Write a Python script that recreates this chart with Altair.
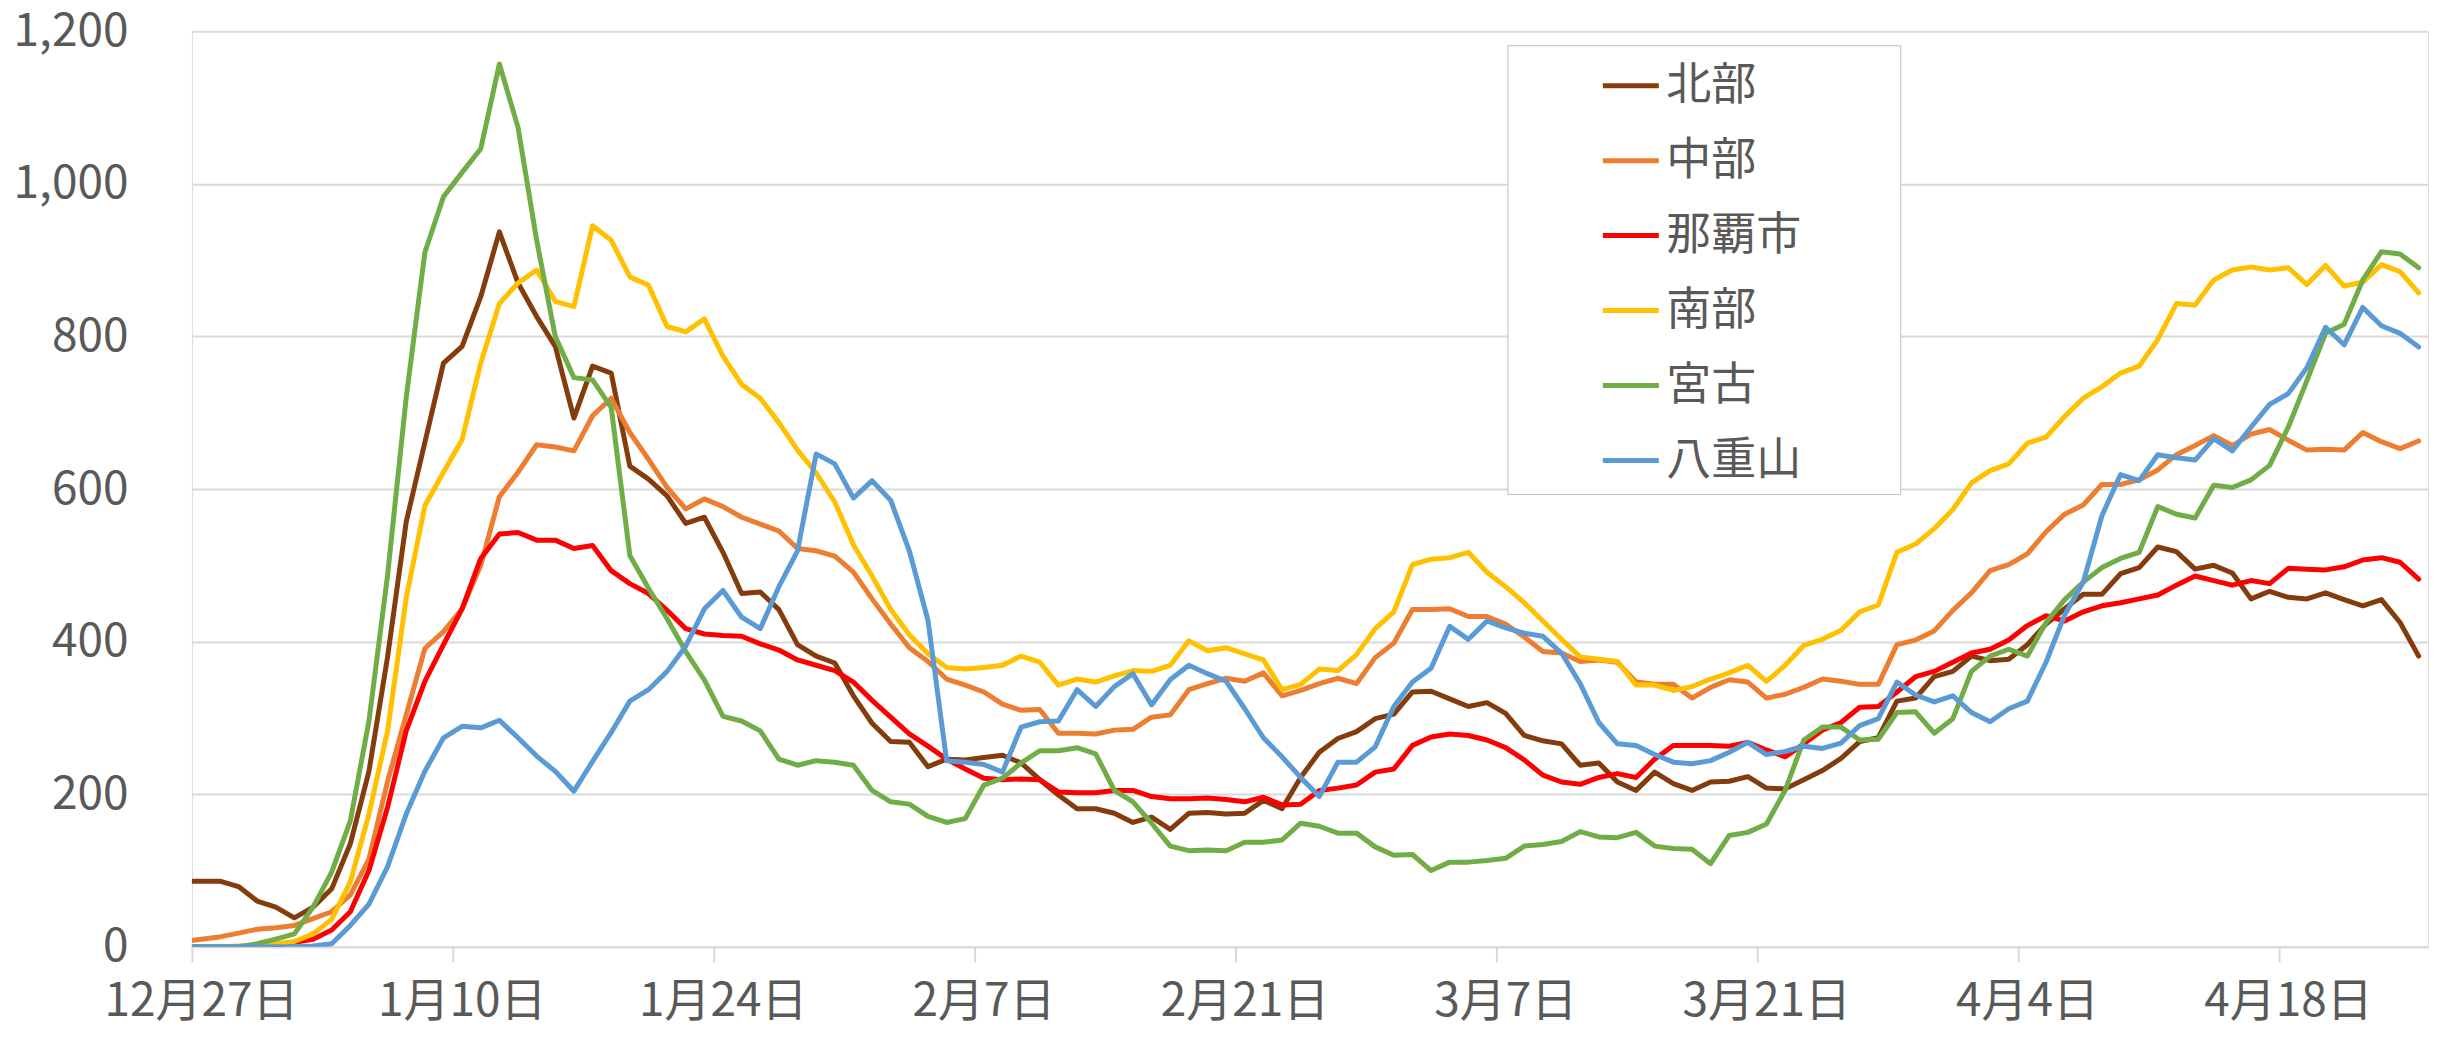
import altair as alt
import pandas as pd

# --- data ---
start_date = "2021-12-26 12:00"   # first (clipped) daily point; axis starts 12/27
series_names = ["北部", "中部", "那覇市", "南部", "宮古", "八重山"]
series_colors = ["#843C0C", "#ED7D31", "#FF0000", "#FFC000", "#70AD47", "#5B9BD5"]

hokubu = [86, 86, 86, 79, 60, 52, 38, 52, 76, 135,
          230, 380, 557, 661, 765, 787, 852, 937, 870, 826,
          787, 693, 761, 752, 630, 613, 591, 555, 563, 517,
          463, 465, 442, 396, 381, 372, 329, 293, 269, 268,
          236, 246, 245, 248, 251, 241, 219, 199, 181, 181,
          175, 163, 170, 154, 175, 176, 174, 175, 192, 181,
          222, 255, 273, 282, 299, 305, 334, 335, 325, 315,
          320, 306, 277, 270, 266, 238, 241, 216, 205, 229,
          214, 205, 216, 217, 223, 208, 207, 219, 231, 247,
          269, 274, 322, 326, 354, 361, 381, 375, 377, 396,
          423, 443, 462, 462, 489, 497, 524, 518, 495, 500,
          490, 456, 466, 458, 456, 464, 455, 447, 455, 425,
          381]
chubu = [7, 10, 13, 18, 23, 25, 28, 37, 46, 68,
         115, 217, 304, 391, 413, 443, 500, 590, 622, 658,
         655, 650, 696, 719, 674, 639, 602, 574, 587, 577,
         563, 554, 545, 522, 519, 512, 491, 456, 423, 392,
         374, 351, 343, 334, 318, 310, 311, 280, 280, 279,
         284, 285, 301, 304, 337, 345, 352, 348, 359, 329,
         336, 345, 352, 345, 379, 398, 442, 442, 443, 433,
         433, 423, 406, 387, 385, 374, 376, 373, 347, 344,
         344, 326, 340, 350, 347, 326, 331, 340, 351, 348,
         344, 344, 396, 402, 414, 441, 464, 493, 501, 515,
         544, 567, 579, 606, 606, 612, 625, 645, 657, 670,
         657, 672, 678, 664, 651, 652, 651, 674, 662, 653,
         663]
naha = [0, 0, 0, 0, 0, 2, 6, 10, 22, 46,
        100, 183, 283, 348, 396, 443, 509, 541, 543, 533,
        533, 522, 526, 493, 476, 463, 441, 417, 410, 408,
        407, 397, 389, 376, 369, 362, 347, 323, 301, 279,
        263, 246, 233, 221, 219, 220, 219, 203, 202, 202,
        205, 205, 197, 194, 194, 195, 193, 190, 196, 186,
        187, 205, 208, 212, 229, 233, 264, 275, 279, 277,
        271, 261, 245, 225, 216, 213, 222, 227, 222, 246,
        264, 264, 264, 263, 268, 258, 249, 266, 284, 294,
        314, 315, 334, 354, 361, 373, 385, 390, 402, 421,
        434, 427, 439, 447, 451, 456, 461, 474, 486, 480,
        474, 480, 476, 496, 495, 494, 498, 507, 510, 504,
        482]
nanbu = [0, 0, 0, 1, 2, 4, 7, 17, 36, 85,
         174, 283, 457, 578, 622, 665, 765, 843, 870, 887,
         846, 839, 945, 926, 878, 867, 813, 806, 823, 774,
         737, 719, 687, 651, 621, 583, 527, 486, 442, 409,
         384, 366, 364, 366, 369, 381, 373, 343, 351, 347,
         355, 362, 361, 369, 401, 388, 392, 384, 376, 337,
         344, 364, 362, 383, 417, 439, 501, 508, 510, 517,
         491, 472, 451, 427, 403, 380, 377, 374, 343, 343,
         336, 341, 351, 359, 369, 348, 369, 395, 403, 415,
         439, 448, 517, 528, 548, 573, 608, 624, 633, 660,
         668, 695, 719, 734, 752, 761, 796, 843, 841, 874,
         887, 891, 887, 890, 868, 893, 866, 871, 894, 885,
         857]
miyako = [0, 0, 0, 0, 4, 10, 17, 52, 98, 165,
          296, 487, 720, 910, 983, 1015, 1046, 1157, 1074, 926,
          800, 746, 743, 707, 513, 470, 430, 387, 350, 302,
          296, 283, 246, 238, 244, 242, 238, 205, 190, 187,
          171, 163, 168, 212, 221, 241, 257, 257, 261, 253,
          205, 190, 162, 132, 126, 127, 126, 137, 137, 140,
          162, 158, 149, 149, 131, 120, 121, 100, 111, 111,
          113, 116, 132, 134, 138, 151, 144, 143, 150, 132,
          129, 128, 109, 146, 150, 161, 205, 271, 288, 288,
          271, 272, 307, 308, 280, 299, 361, 381, 390, 381,
          425, 455, 478, 497, 509, 517, 577, 567, 562, 605,
          602, 612, 631, 681, 742, 804, 816, 874, 911, 908,
          890]
yaeyama = [0, 0, 0, 0, 0, 0, 0, 1, 4, 28,
           56, 105, 174, 230, 274, 289, 287, 297, 274, 250,
           230, 204, 243, 281, 322, 337, 361, 394, 443, 467,
           432, 417, 472, 519, 646, 633, 588, 611, 585, 519,
           428, 244, 242, 239, 229, 288, 295, 296, 337, 315,
           341, 358, 317, 350, 369, 358, 348, 312, 274, 249,
           222, 197, 242, 242, 262, 315, 347, 365, 420, 403,
           427, 418, 411, 407, 385, 345, 294, 266, 264, 252,
           242, 240, 244, 255, 268, 252, 256, 263, 260, 267,
           290, 299, 347, 330, 321, 329, 307, 295, 312, 322,
           373, 435, 478, 565, 619, 611, 645, 641, 638, 666,
           650, 681, 711, 725, 759, 812, 789, 838, 814, 804,
           786]

tick_dates = ["2021-12-27", "2022-01-10", "2022-01-24", "2022-02-07", "2022-02-21",
              "2022-03-07", "2022-03-21", "2022-04-04", "2022-04-18"]
x_domain = ["2021-12-27", "2022-04-26"]
y_ticks = [0, 200, 400, 600, 800, 1000, 1200]

# --- build long table ---
all_series = [hokubu, chubu, naha, nanbu, miyako, yaeyama]
dates = pd.date_range(start_date, periods=len(hokubu), freq="D")
rows = []
for name, vals in zip(series_names, all_series):
    for d, v in zip(dates, vals):
        rows.append({"date": d.strftime("%Y-%m-%dT%H:%M:%S"), "area": name, "value": v})
df = pd.DataFrame(rows)


def to_dt(s):
    t = pd.Timestamp(s)
    return alt.DateTime(year=t.year, month=t.month, date=t.day)


FONT = "Noto Sans CJK JP"
TXT = "#595959"
GRID = "#D9D9D9"

chart = alt.Chart(df).mark_line(
    strokeWidth=5, strokeJoin="round", strokeCap="round", clip=True
).encode(
    x=alt.X(
        "date:T",
        scale=alt.Scale(domain=[to_dt(s) for s in x_domain]),
        axis=alt.Axis(
            title=None,
            values=[to_dt(s) for s in tick_dates],
            format="%-m月%-d日",
            formatType="time",
            grid=False,
            domainColor=GRID,
            domainWidth=2,
            tickColor=GRID,
            tickWidth=2,
            tickSize=15,
            labelPadding=18,
            labelOffset=9,
            labelOverlap=False,
            labelFlush=False,
            labelLimit=400,
            labelFontSize=46,
            labelColor=TXT,
            labelFont=FONT,
        ),
    ),
    y=alt.Y(
        "value:Q",
        scale=alt.Scale(domain=[0, 1200]),
        axis=alt.Axis(
            title=None,
            values=y_ticks,
            format=",d",
            domain=False,
            ticks=False,
            gridColor=GRID,
            gridWidth=2,
            labelPadding=64,
            labelLimit=400,
            labelFontSize=46,
            labelColor=TXT,
            labelFont=FONT,
        ),
    ),
    color=alt.Color(
        "area:N",
        scale=alt.Scale(domain=series_names, range=series_colors),
        sort=series_names,
        legend=alt.Legend(
            title=None,
            orient="none",
            legendX=1316,
            legendY=14,
            padding=10,
            symbolType="stroke",
            symbolSize=3136,
            symbolStrokeWidth=5,
            symbolOffset=83,
            labelOffset=5,
            rowPadding=21,
            labelLimit=600,
            labelExpr="datum.label + '\u2800\u2002\u2800'",
            labelFontSize=45,
            labelColor=TXT,
            labelFont=FONT,
            strokeColor="#BFBFBF",
            fillColor="white",
        ),
    ),
).properties(
    width=2237,
    height=916,
    autosize=alt.AutoSizeParams(type="none"),
    padding={"left": 184, "top": 23, "right": 10, "bottom": 87},
).configure_view(
    stroke=None
).configure(
    font=FONT
)

chart.save("out.html", embed_options={"renderer": "svg", "actions": False})
